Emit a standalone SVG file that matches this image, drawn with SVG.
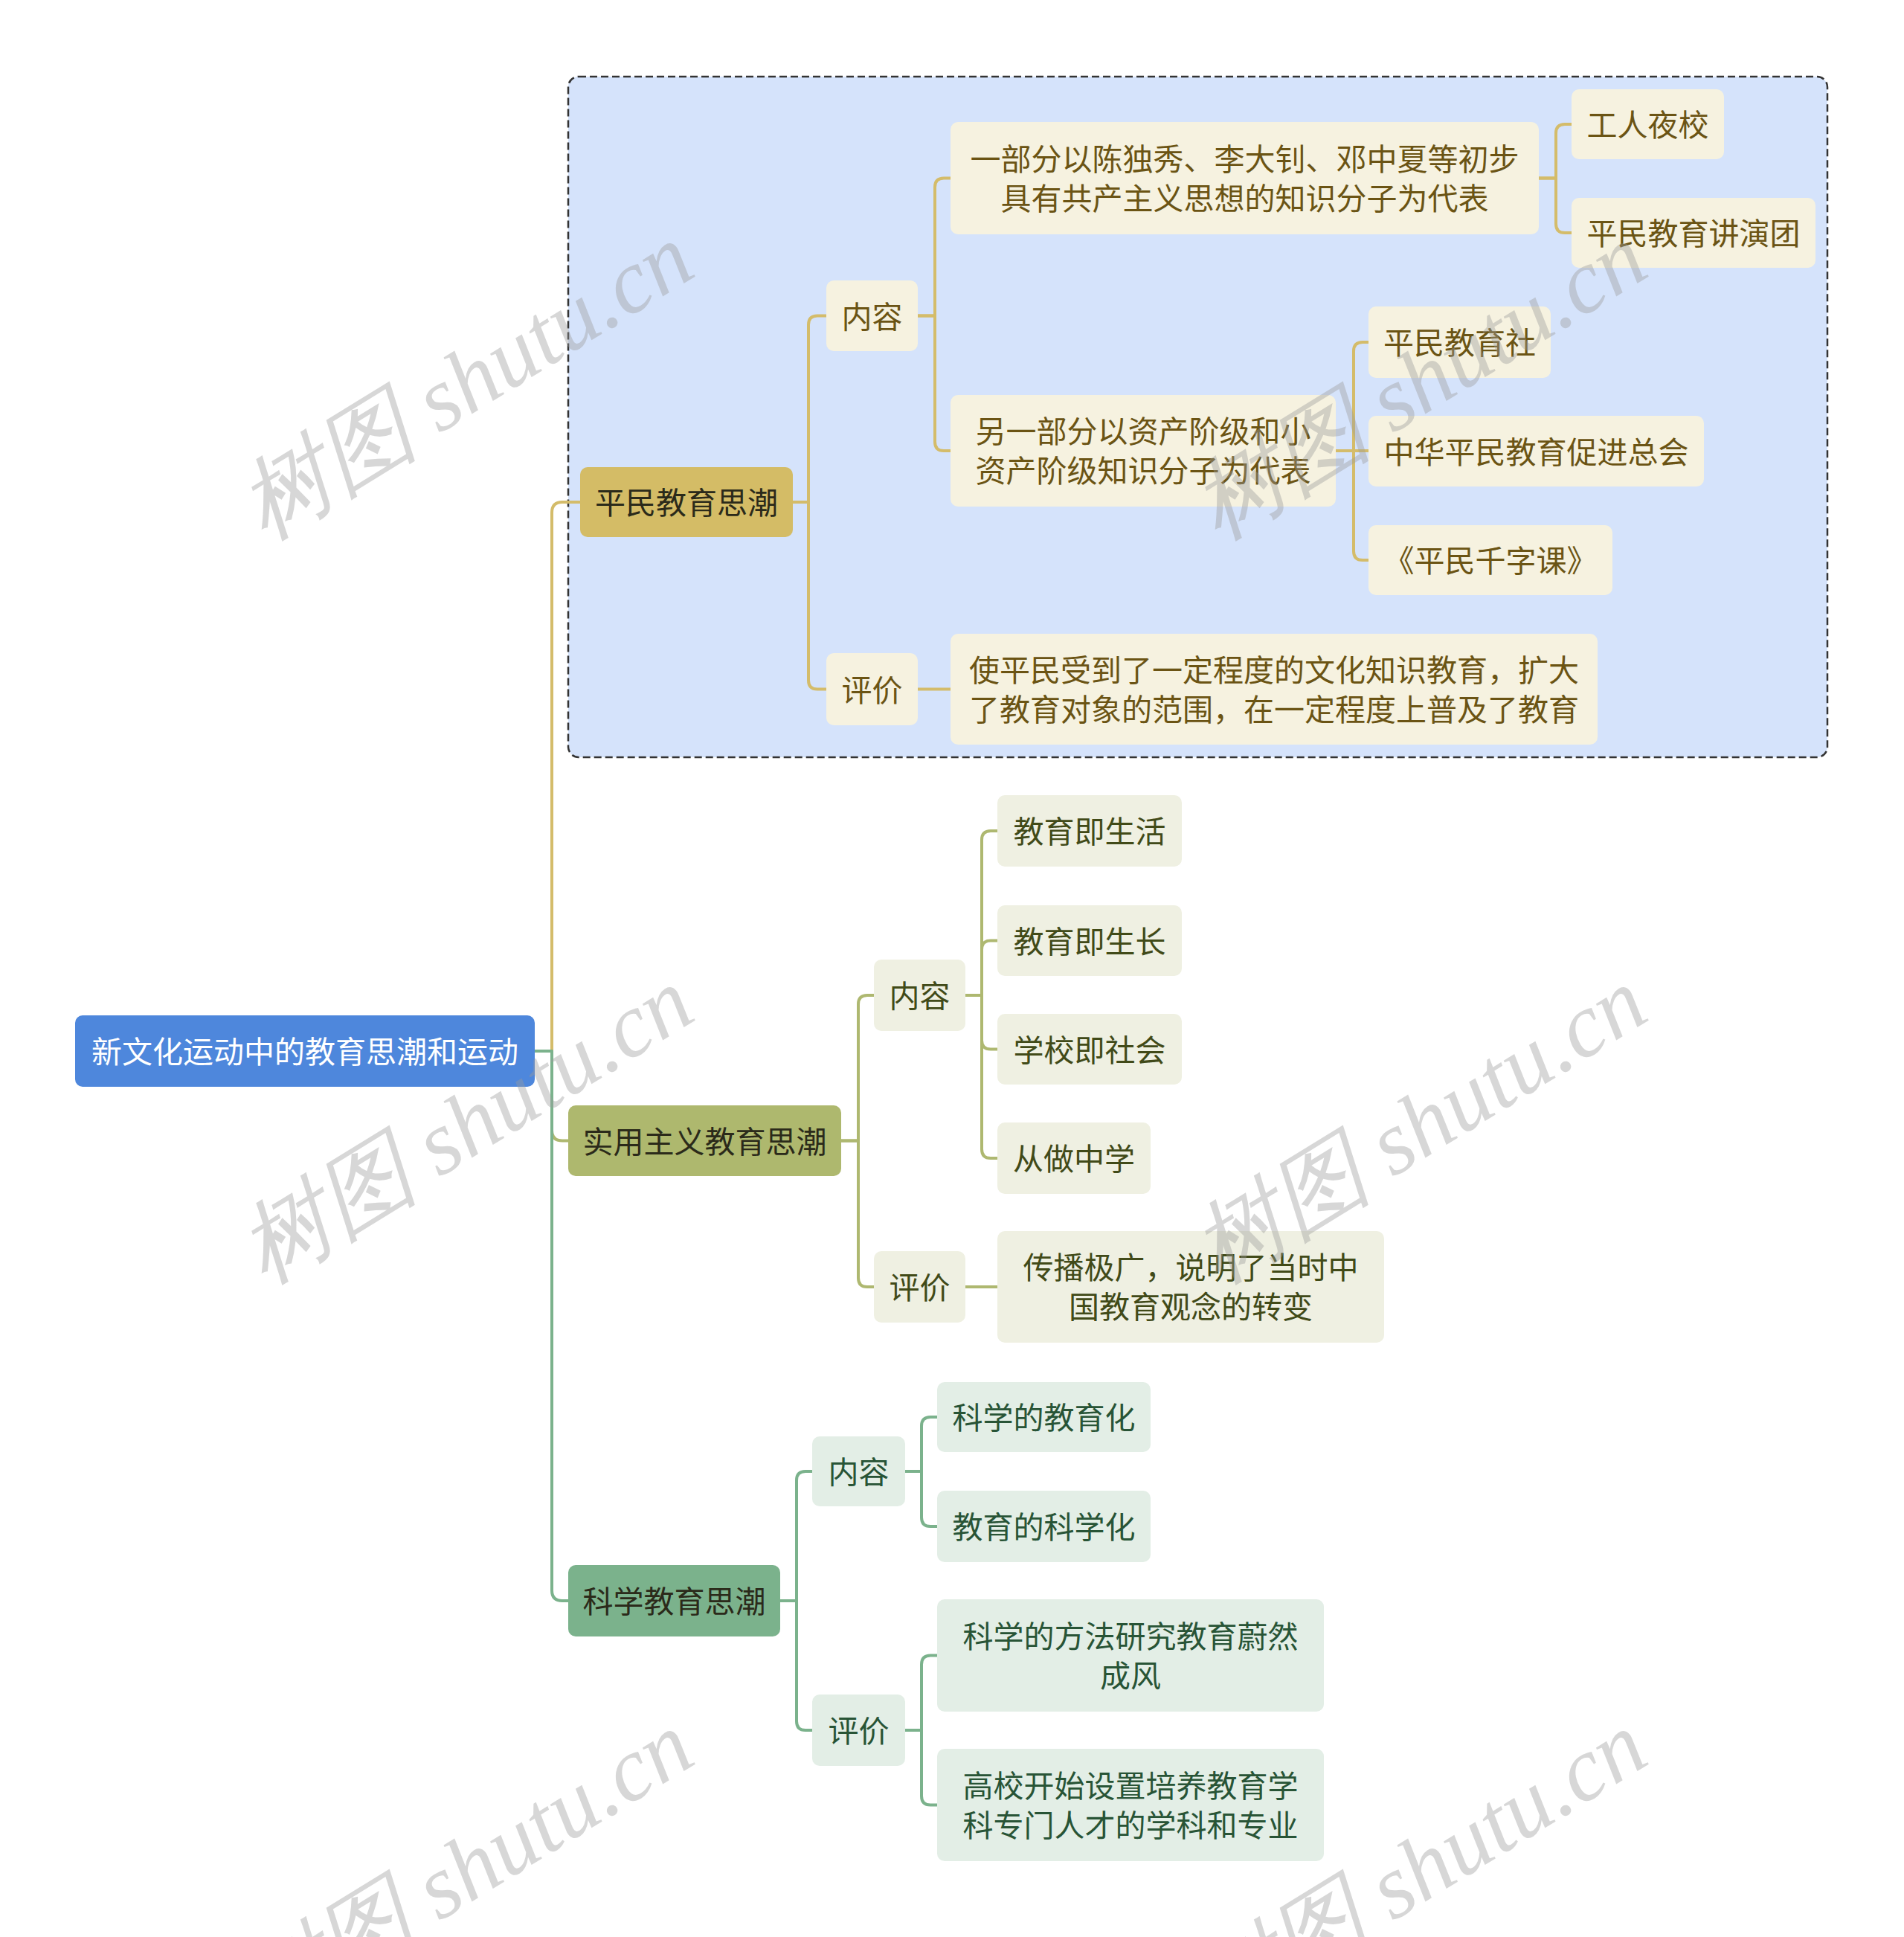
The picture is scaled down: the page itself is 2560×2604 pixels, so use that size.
<svg xmlns="http://www.w3.org/2000/svg" width="2560" height="2604" viewBox="0 0 2560 2604">
<style>
text{font-family:"Noto Sans CJK SC","Noto Sans",sans-serif;font-size:41px;text-anchor:middle}
.c{fill:none;stroke-width:4;stroke-linejoin:round}
.c1{stroke:#D4BC6A}.c2{stroke:#AEB870}.c3{stroke:#7BB28C}
.l1a{fill:#D4BC66}.l1b{fill:#AEB86E}.l1c{fill:#7BB28C}
.na{fill:#F6F2E0}.nb{fill:#EFF0E2}.nc{fill:#E3EEE6}
.ta{fill:#6B5414}.tb{fill:#414A18}.tc{fill:#285436}.tl{fill:#2B2A1A}
.wm{font-family:"Liberation Serif",serif;font-style:italic;font-size:122px;fill:#9a9a9a;fill-opacity:0.4}
</style>
<rect id="frame" x="764" y="103" width="1693" height="915" rx="14" fill="#D5E3FB" stroke="#333" stroke-width="2.5" stroke-dasharray="10 5"/>
<g id="connectors">
<path class="c c1" d="M 719 1413 H 742 V 689 Q 742 675 756 675 H 780"/>
<path class="c c2" d="M 719 1413 H 742 V 1519.5 Q 742 1533.5 756 1533.5 H 764"/>
<path class="c c3" d="M 719 1413 H 742 V 2138 Q 742 2152 756 2152 H 764"/>
<path class="c c1" d="M 1066 675 H 1087 V 436.5 Q 1087 424.5 1099 424.5 H 1111"/>
<path class="c c1" d="M 1066 675 H 1087 V 914.5 Q 1087 926.5 1099 926.5 H 1111"/>
<path class="c c1" d="M 1234 424.5 H 1257 V 251.5 Q 1257 239.5 1269 239.5 H 1278"/>
<path class="c c1" d="M 1234 424.5 H 1257 V 594 Q 1257 606 1269 606 H 1278"/>
<path class="c c1" d="M 2069 239.5 H 2092 V 179 Q 2092 167 2104 167 H 2113"/>
<path class="c c1" d="M 2069 239.5 H 2092 V 301 Q 2092 313 2104 313 H 2113"/>
<path class="c c1" d="M 1796 606 H 1820 V 472 Q 1820 460 1832 460 H 1840"/>
<path class="c c1" d="M 1796 606 H 1840"/>
<path class="c c1" d="M 1796 606 H 1820 V 741 Q 1820 753 1832 753 H 1840"/>
<path class="c c1" d="M 1234 926.5 H 1278"/>
<path class="c c2" d="M 1131 1533.5 H 1154 V 1350 Q 1154 1338 1166 1338 H 1175"/>
<path class="c c2" d="M 1131 1533.5 H 1154 V 1718 Q 1154 1730 1166 1730 H 1175"/>
<path class="c c2" d="M 1298 1338 H 1320 V 1129 Q 1320 1117 1332 1117 H 1341"/>
<path class="c c2" d="M 1298 1338 H 1320 V 1276.5 Q 1320 1264.5 1332 1264.5 H 1341"/>
<path class="c c2" d="M 1298 1338 H 1320 V 1398.5 Q 1320 1410.5 1332 1410.5 H 1341"/>
<path class="c c2" d="M 1298 1338 H 1320 V 1545 Q 1320 1557 1332 1557 H 1341"/>
<path class="c c2" d="M 1298 1730 H 1341"/>
<path class="c c3" d="M 1049 2152 H 1071 V 1990 Q 1071 1978 1083 1978 H 1092"/>
<path class="c c3" d="M 1049 2152 H 1071 V 2314 Q 1071 2326 1083 2326 H 1092"/>
<path class="c c3" d="M 1217 1978 H 1239 V 1917 Q 1239 1905 1251 1905 H 1260"/>
<path class="c c3" d="M 1217 1978 H 1239 V 2040 Q 1239 2052 1251 2052 H 1260"/>
<path class="c c3" d="M 1217 2326 H 1239 V 2237.5 Q 1239 2225.5 1251 2225.5 H 1260"/>
<path class="c c3" d="M 1217 2326 H 1239 V 2414.5 Q 1239 2426.5 1251 2426.5 H 1260"/>
</g>
<g id="root"><rect x="101" y="1365" width="618" height="96" rx="10" fill="#4E87DC"/><text x="410" y="1429" fill="#fff">新文化运动中的教育思潮和运动</text></g>
<g id="pingmin"><rect class="l1a" x="780" y="628" width="286" height="94" rx="10"/><text class="tl" x="923" y="691">平民教育思潮</text></g>
<g id="pm-neirong"><rect class="na" x="1111" y="377" width="123" height="95" rx="10"/><text class="ta" x="1172.5" y="440.5">内容</text></g>
<g id="pm-pingjia"><rect class="na" x="1111" y="878" width="123" height="97" rx="10"/><text class="ta" x="1172.5" y="942.5">评价</text></g>
<g id="pm-part1"><rect class="na" x="1278" y="164" width="791" height="151" rx="10"/><text class="ta" x="1673.5" y="229">一部分以陈独秀、李大钊、邓中夏等初步</text><text class="ta" x="1673.5" y="282">具有共产主义思想的知识分子为代表</text></g>
<g id="pm-yexiao"><rect class="na" x="2113" y="120" width="205" height="94" rx="10"/><text class="ta" x="2215.5" y="183">工人夜校</text></g>
<g id="pm-jiangyan"><rect class="na" x="2113" y="266" width="328" height="94" rx="10"/><text class="ta" x="2277" y="329">平民教育讲演团</text></g>
<g id="pm-part2"><rect class="na" x="1278" y="531" width="518" height="150" rx="10"/><text class="ta" x="1537" y="595">另一部分以资产阶级和小</text><text class="ta" x="1537" y="648">资产阶级知识分子为代表</text></g>
<g id="pm-she"><rect class="na" x="1840" y="412" width="245" height="96" rx="10"/><text class="ta" x="1962.5" y="476">平民教育社</text></g>
<g id="pm-cujin"><rect class="na" x="1840" y="559" width="451" height="95" rx="10"/><text class="ta" x="2065.5" y="622.5">中华平民教育促进总会</text></g>
<g id="pm-qianzi"><rect class="na" x="1840" y="706" width="328" height="94" rx="10"/><text class="ta" x="2004" y="769">《平民千字课》</text></g>
<g id="pm-eval"><rect class="na" x="1278" y="852" width="870" height="149" rx="10"/><text class="ta" x="1713" y="916">使平民受到了一定程度的文化知识教育，扩大</text><text class="ta" x="1713" y="969">了教育对象的范围，在一定程度上普及了教育</text></g>
<g id="shiyong"><rect class="l1b" x="764" y="1486" width="367" height="95" rx="10"/><text class="tl" x="947.5" y="1549.5">实用主义教育思潮</text></g>
<g id="sy-neirong"><rect class="nb" x="1175" y="1290" width="123" height="96" rx="10"/><text class="tb" x="1236.5" y="1354">内容</text></g>
<g id="sy-pingjia"><rect class="nb" x="1175" y="1682" width="123" height="96" rx="10"/><text class="tb" x="1236.5" y="1746">评价</text></g>
<g id="sy-shenghuo"><rect class="nb" x="1341" y="1069" width="248" height="96" rx="10"/><text class="tb" x="1465" y="1133">教育即生活</text></g>
<g id="sy-shengzhang"><rect class="nb" x="1341" y="1217" width="248" height="95" rx="10"/><text class="tb" x="1465" y="1280.5">教育即生长</text></g>
<g id="sy-shehui"><rect class="nb" x="1341" y="1363" width="248" height="95" rx="10"/><text class="tb" x="1465" y="1426.5">学校即社会</text></g>
<g id="sy-zuo"><rect class="nb" x="1341" y="1509" width="206" height="96" rx="10"/><text class="tb" x="1444" y="1573">从做中学</text></g>
<g id="sy-eval"><rect class="nb" x="1341" y="1655" width="520" height="150" rx="10"/><text class="tb" x="1601" y="1719">传播极广，说明了当时中</text><text class="tb" x="1601" y="1772">国教育观念的转变</text></g>
<g id="kexue"><rect class="l1c" x="764" y="2104" width="285" height="96" rx="10"/><text class="tl" x="906.5" y="2168">科学教育思潮</text></g>
<g id="kx-neirong"><rect class="nc" x="1092" y="1931" width="125" height="94" rx="10"/><text class="tc" x="1154.5" y="1994">内容</text></g>
<g id="kx-pingjia"><rect class="nc" x="1092" y="2278" width="125" height="96" rx="10"/><text class="tc" x="1154.5" y="2342">评价</text></g>
<g id="kx-jiaoyuhua"><rect class="nc" x="1260" y="1858" width="287" height="94" rx="10"/><text class="tc" x="1403.5" y="1921">科学的教育化</text></g>
<g id="kx-kexuehua"><rect class="nc" x="1260" y="2004" width="287" height="96" rx="10"/><text class="tc" x="1403.5" y="2068">教育的科学化</text></g>
<g id="kx-fangfa"><rect class="nc" x="1260" y="2150" width="520" height="151" rx="10"/><text class="tc" x="1520" y="2215">科学的方法研究教育蔚然</text><text class="tc" x="1520" y="2268">成风</text></g>
<g id="kx-gaoxiao"><rect class="nc" x="1260" y="2351" width="520" height="151" rx="10"/><text class="tc" x="1520" y="2416">高校开始设置培养教育学</text><text class="tc" x="1520" y="2469">科专门人才的学科和专业</text></g>
<g id="watermarks">
<text class="wm" transform="translate(648 548) rotate(-31.6)">树图 shutu.cn</text>
<text class="wm" transform="translate(1930 548) rotate(-31.6)">树图 shutu.cn</text>
<text class="wm" transform="translate(648 1548) rotate(-31.6)">树图 shutu.cn</text>
<text class="wm" transform="translate(1930 1548) rotate(-31.6)">树图 shutu.cn</text>
<text class="wm" transform="translate(648 2548) rotate(-31.6)">树图 shutu.cn</text>
<text class="wm" transform="translate(1930 2548) rotate(-31.6)">树图 shutu.cn</text>
</g>
</svg>
